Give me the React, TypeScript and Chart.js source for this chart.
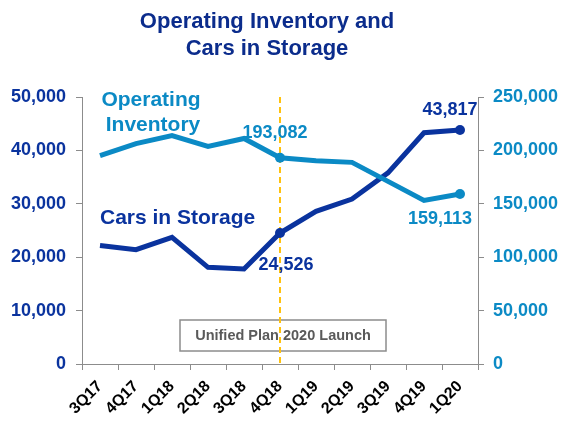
import React, { useEffect, useRef } from "react";
import { Chart, registerables } from "chart.js";

Chart.register(...registerables);

const quarters = ["3Q17", "4Q17", "1Q18", "2Q18", "3Q18", "4Q18", "1Q19", "2Q19", "3Q19", "4Q19", "1Q20"];
const carsInStorage = [22200, 21400, 23700, 18100, 17800, 24526, 28600, 30900, 35800, 43300, 43817];
const operatingInventory = [195000, 206300, 213800, 203700, 211200, 193082, 190400, 188800, 171000, 153200, 159113];
const leftTicks = [0, 10000, 20000, 30000, 40000, 50000];
const rightTicks = [0, 50000, 100000, 150000, 200000, 250000];
const launchIndex = 5;
const lastIndex = quarters.length - 1;
const titleLines = ["Operating Inventory and", "Cars in Storage"];
const launchText = "Unified Plan 2020 Launch";

const DARK = "#0A339E";
const LIGHT = "#0B8AC5";
const NAVY = "#0B2C8C";
const FONT = "'Liberation Sans', Arial, sans-serif";

const fmt = (v: number) => v.toLocaleString("en-US");

const overlay = {
  id: "overlay",
  beforeDatasetsDraw(chart: any) {
    const ctx = chart.ctx;
    const x = chart.scales.x;
    const area = chart.chartArea;
    const lx = x.getPixelForValue(launchIndex);
    ctx.save();
    const bx = lx - 100;
    const by = area.bottom - 44;
    ctx.fillStyle = "#ffffff";
    ctx.fillRect(bx, by, 206, 31);
    ctx.strokeStyle = "#8c8c8c";
    ctx.lineWidth = 1.5;
    ctx.strokeRect(bx, by, 206, 31);
    ctx.fillStyle = "#5a5a5a";
    ctx.font = `bold 14.5px ${FONT}`;
    ctx.textAlign = "center";
    ctx.textBaseline = "middle";
    ctx.fillText(launchText, bx + 103, by + 16);
    ctx.strokeStyle = "#FFC20E";
    ctx.lineWidth = 2;
    ctx.setLineDash([6, 4]);
    ctx.beginPath();
    ctx.moveTo(lx, area.top);
    ctx.lineTo(lx, area.bottom);
    ctx.stroke();
    ctx.restore();
  },
  afterDatasetsDraw(chart: any) {
    const ctx = chart.ctx;
    const x = chart.scales.x;
    const yL = chart.scales.yL;
    const yR = chart.scales.yR;
    const area = chart.chartArea;
    ctx.save();
    ctx.textBaseline = "middle";
    ctx.textAlign = "center";
    ctx.fillStyle = NAVY;
    ctx.font = `bold 22px ${FONT}`;
    ctx.fillText(titleLines[0], 267, 22);
    ctx.fillText(titleLines[1], 267, 49);
    ctx.fillStyle = LIGHT;
    ctx.font = `bold 21px ${FONT}`;
    ctx.fillText("Operating", area.left + 69, 100);
    ctx.fillText("Inventory", area.left + 71, 125);
    ctx.fillStyle = DARK;
    ctx.textAlign = "left";
    ctx.fillText("Cars in Storage", area.left + 18, 218);
    ctx.font = `bold 18px ${FONT}`;
    ctx.textAlign = "center";
    const px5 = x.getPixelForValue(launchIndex);
    const pxL = x.getPixelForValue(lastIndex);
    ctx.fillStyle = LIGHT;
    ctx.fillText(fmt(operatingInventory[launchIndex]), px5 - 5, yR.getPixelForValue(operatingInventory[launchIndex]) - 25);
    ctx.fillText(fmt(operatingInventory[lastIndex]), pxL - 20, yR.getPixelForValue(operatingInventory[lastIndex]) + 25);
    ctx.fillStyle = DARK;
    ctx.fillText(fmt(carsInStorage[launchIndex]), px5 + 6, yL.getPixelForValue(carsInStorage[launchIndex]) + 32);
    ctx.fillText(fmt(carsInStorage[lastIndex]), pxL - 10, yL.getPixelForValue(carsInStorage[lastIndex]) - 20);
    ctx.restore();
  },
};

export default function App() {
  const ref = useRef<HTMLCanvasElement>(null);
  useEffect(() => {
    if (!ref.current) return;
    const radii = quarters.map((_, i) => (i === launchIndex || i === lastIndex ? 5 : 0));
    const chart = new Chart(ref.current, {
      type: "line",
      data: {
        labels: quarters,
        datasets: [
          {
            label: "Operating Inventory",
            data: operatingInventory,
            yAxisID: "yR",
            borderColor: LIGHT,
            backgroundColor: LIGHT,
            borderWidth: 5,
            pointRadius: radii,
            pointBorderWidth: 0,
            tension: 0,
          },
          {
            label: "Cars in Storage",
            data: carsInStorage,
            yAxisID: "yL",
            borderColor: DARK,
            backgroundColor: DARK,
            borderWidth: 5,
            pointRadius: radii,
            pointBorderWidth: 0,
            tension: 0,
          },
        ],
      },
      options: {
        responsive: false,
        animation: false,
        devicePixelRatio: 1,
        layout: { padding: { top: 97, left: 0, right: 0, bottom: 0 } },
        plugins: { legend: { display: false }, tooltip: { enabled: false }, title: { display: false } },
        scales: {
          x: {
            type: "category",
            offset: true,
            grid: { display: true, drawOnChartArea: false, offset: true, tickLength: 6, color: "#8c8c8c" },
            border: { color: "#8c8c8c", width: 1 },
            ticks: {
              color: "#000000",
              font: { family: FONT, size: 16, weight: "bold" },
              minRotation: 45,
              maxRotation: 45,
              padding: 7,
              autoSkip: false,
            },
            afterFit: (s: any) => {
              s.height = 58;
            },
          },
          yL: {
            type: "linear",
            position: "left",
            min: 0,
            max: 50000,
            afterBuildTicks: (s: any) => {
              s.ticks = leftTicks.map((v) => ({ value: v }));
            },
            grid: { display: true, drawOnChartArea: false, tickLength: 6, color: "#8c8c8c" },
            border: { color: "#8c8c8c", width: 1 },
            ticks: {
              color: DARK,
              font: { family: FONT, size: 18, weight: "bold" },
              padding: 10,
              callback: (v: any) => fmt(Number(v)),
            },
            afterFit: (s: any) => {
              s.width = 82;
            },
          },
          yR: {
            type: "linear",
            position: "right",
            min: 0,
            max: 250000,
            afterBuildTicks: (s: any) => {
              s.ticks = rightTicks.map((v) => ({ value: v }));
            },
            grid: { display: true, drawOnChartArea: false, tickLength: 6, color: "#8c8c8c" },
            border: { color: "#8c8c8c", width: 1 },
            ticks: {
              color: LIGHT,
              font: { family: FONT, size: 18, weight: "bold" },
              padding: 9,
              callback: (v: any) => fmt(Number(v)),
            },
            afterFit: (s: any) => {
              s.width = 85;
            },
          },
        },
      },
      plugins: [overlay],
    });
    return () => chart.destroy();
  }, []);
  return (
    <div style={{ position: "fixed", left: 0, top: 0, width: 563, height: 422, background: "#fff" }}>
      <canvas ref={ref} width={563} height={422} />
    </div>
  );
}
